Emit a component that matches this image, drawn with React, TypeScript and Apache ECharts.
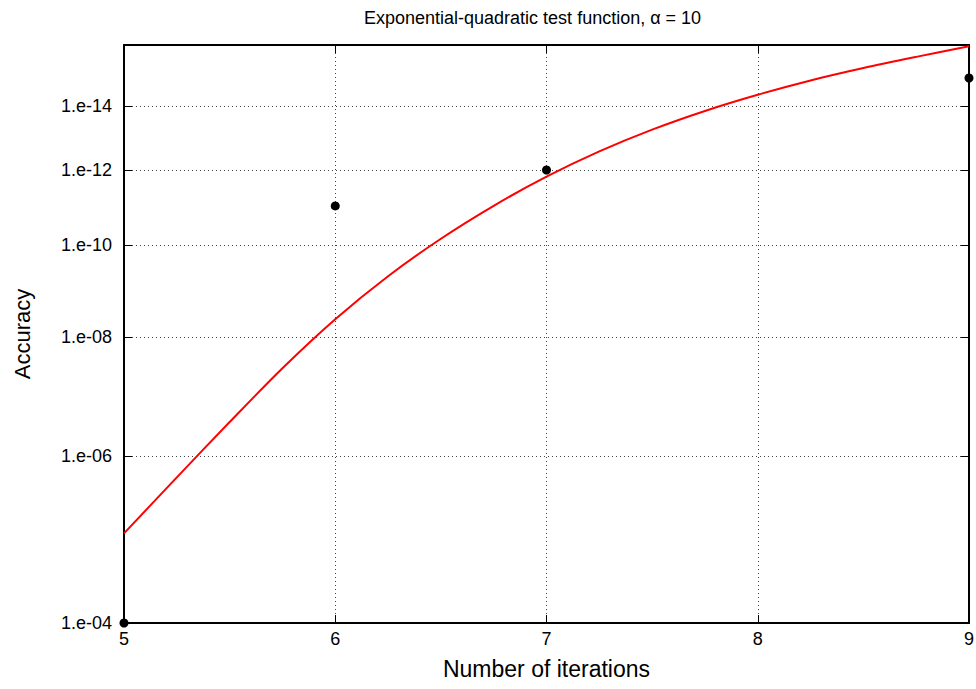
import React, { useEffect, useRef } from "react";
import * as echarts from "echarts";

// Measured iterations and accuracy (number of correct digits: accuracy = 1e-digits)
const iterations = [5, 6, 7, 9];
const accuracyDigits = [4, 11, 12, 15];

// Theoretical curve (red), digits of accuracy vs iterations
const curveIterations = [5, 5.25, 5.5, 5.75, 6, 6.25, 6.5, 6.75, 7, 7.25, 7.5, 7.75, 8, 8.25, 8.5, 8.75, 9];
const curveDigits = [
  4.971, 5.694, 6.512, 7.42, 8.357, 9.275, 10.158, 11.003, 11.807, 12.553, 13.234, 13.848, 14.402, 14.91,
  15.365, 15.788, 16.203,
];

// Y tick labels (digits)
const yTickDigits = [4, 6, 8, 10, 12, 14];
const xTickValues = [5, 6, 7, 8, 9];

const FONT = "'Liberation Sans', Arial, Helvetica, sans-serif";
const fmtY = (v: number) => "1.e-" + String(Math.round(v)).padStart(2, "0");

export default function App() {
  const ref = useRef<HTMLDivElement>(null);
  useEffect(() => {
    if (!ref.current) return;
    const chart = echarts.init(ref.current, null, { renderer: "svg" });
    const axisLine = { show: true, onZero: false, lineStyle: { color: "#000", width: 2 } };
    const axisTick = (vals?: number[]) => ({
      show: true,
      inside: true,
      length: 8,
      lineStyle: { color: "#000", width: 1 },
      ...(vals ? { customValues: vals } : {}),
    });
    const grid = { type: [1, 3], color: "#444", width: 1 };
    const option: any = {
      animation: false,
      backgroundColor: "#fff",
      title: {
        text: "Exponential-quadratic test function, \u03b1 = 10",
        left: 364,
        top: 9,
        padding: 0,
        textStyle: { fontFamily: FONT, fontSize: 18, fontWeight: "normal", color: "#000" },
      },
      grid: { left: 124, right: 7, top: 45, bottom: 66, containLabel: false, outerBoundsMode: "none" },
      xAxis: [
        {
          type: "value",
          min: 5,
          max: 9,
          interval: 1,
          position: "bottom",
          axisLine,
          axisTick: axisTick(),
          splitLine: { show: true, lineStyle: grid },
          axisLabel: {
            show: true,
            margin: 7,
            color: "#000",
            fontFamily: FONT,
            fontSize: 18,
            customValues: xTickValues,
          },
          name: "Number of iterations",
          nameLocation: "middle",
          nameGap: 34,
          nameTextStyle: { fontFamily: FONT, fontSize: 23, color: "#000" },
        },
        {
          type: "value",
          min: 5,
          max: 9,
          interval: 1,
          position: "top",
          axisLine,
          axisTick: axisTick(),
          splitLine: { show: false },
          axisLabel: { show: false },
        },
      ],
      yAxis: [
        {
          type: "log",
          logBase: 10,
          min: 4,
          max: 16.25,
          position: "left",
          axisLine,
          axisTick: axisTick(yTickDigits),
          splitLine: { show: true, lineStyle: grid },
          minorTick: { show: false },
          minorSplitLine: { show: false },
          axisLabel: {
            show: true,
            margin: 12,
            color: "#000",
            fontFamily: FONT,
            fontSize: 18,
            customValues: yTickDigits,
            formatter: (v: number) => fmtY(v),
          },
          name: "Accuracy",
          nameLocation: "middle",
          nameGap: 91,
          nameRotate: 90,
          nameTextStyle: { fontFamily: FONT, fontSize: 22, color: "#000" },
        },
        {
          type: "log",
          logBase: 10,
          min: 4,
          max: 16.25,
          position: "right",
          axisLine,
          axisTick: axisTick(yTickDigits),
          splitLine: { show: false },
          axisLabel: { show: false, customValues: yTickDigits },
        },
      ],
      series: [
        {
          type: "line",
          xAxisIndex: 0,
          yAxisIndex: 0,
          data: curveIterations.map((x, i) => [x, curveDigits[i]]),
          smooth: 0.3,
          showSymbol: false,
          lineStyle: { color: "#ff0000", width: 2 },
          itemStyle: { color: "#ff0000" },
          z: 3,
        },
        {
          type: "scatter",
          xAxisIndex: 0,
          yAxisIndex: 0,
          data: iterations.map((x, i) => [x, accuracyDigits[i]]),
          symbol: "circle",
          symbolSize: 9,
          itemStyle: { color: "#000", opacity: 1 },
          clip: false,
          z: 5,
        },
      ],
    };
    chart.setOption(option);
    return () => chart.dispose();
  }, []);
  return (
    <div
      ref={ref}
      style={{ position: "fixed", left: 0, top: 0, width: 976, height: 689, background: "#fff" }}
    />
  );
}
